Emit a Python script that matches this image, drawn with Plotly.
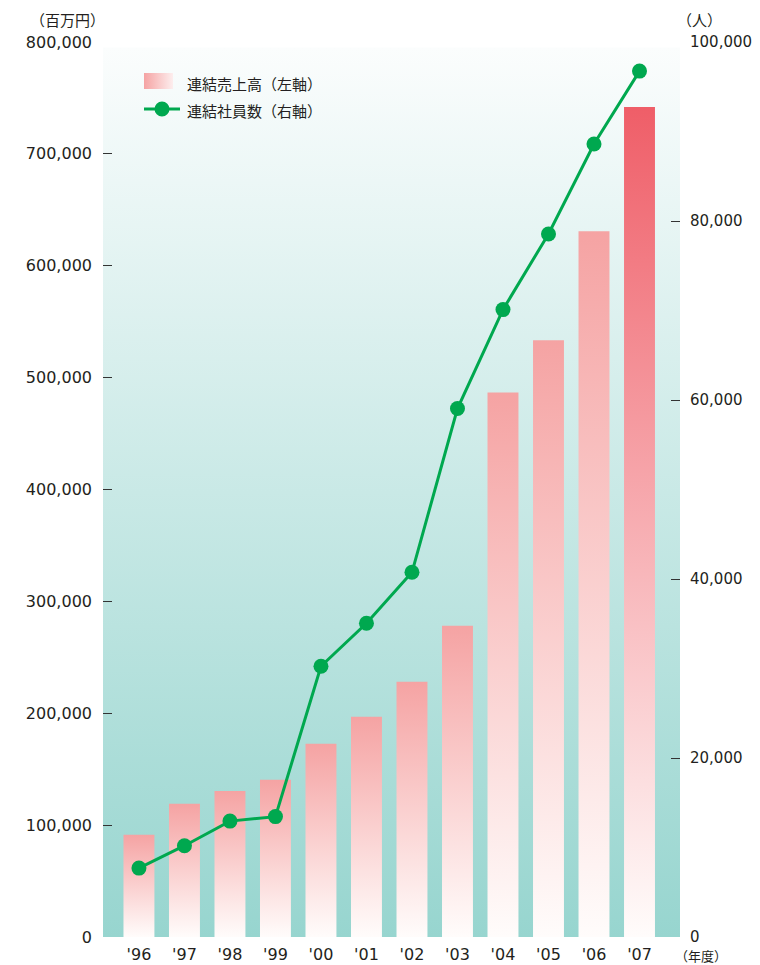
import plotly.graph_objects as go

# データ
years = ["'96", "'97", "'98", "'99", "'00", "'01", "'02", "'03", "'04", "'05", "'06", "'07"]
sales = [91500, 119000, 130600, 140500, 172700, 196900, 228200, 278300, 486800, 533300, 630900, 741800]
employees = [7700, 10200, 12950, 13450, 30250, 35050, 40750, 59050, 70100, 78550, 88600, 96750]
left_ticks = [0, 100000, 200000, 300000, 400000, 500000, 600000, 700000, 800000]
right_ticks = [0, 20000, 40000, 60000, 80000, 100000]

FONT = "DejaVu Sans, Noto Sans CJK JP"
JP = "Noto Sans CJK JP"
GREEN = "#00a84f"
PINK = "#f5a3a3"
RED = "#ef5e68"
TXT = "#231f20"
half = 0.34
xr = [-0.79, 11.89]
bg_top = 795000

# ページ上のピクセル位置 -> paper座標 (プロット領域 x:103-680, y:42-937)
def px2paper(px, py):
    return (px - 103) / 577, (937 - py) / 895

fig = go.Figure()

# 背景のグラデーション
fig.add_trace(go.Scatter(
    x=[xr[0], xr[0], xr[1], xr[1], xr[0]], y=[0, bg_top, bg_top, 0, 0],
    mode="none", fill="toself", showlegend=False, hoverinfo="skip",
    fillgradient=dict(type="vertical", colorscale=[[0, "#97d5cf"], [1, "#fbfdfd"]]),
))

# 売上高の棒
for i, v in enumerate(sales):
    top = RED if i == len(sales) - 1 else PINK
    fig.add_trace(go.Scatter(
        x=[i - half, i - half, i + half, i + half, i - half], y=[0, v, v, 0, 0],
        mode="none", fill="toself", showlegend=False, hoverinfo="skip",
        fillgradient=dict(type="vertical", colorscale=[[0, "#fffcfb"], [1, top]]),
    ))

# 社員数
fig.add_trace(go.Scatter(
    x=list(range(len(years))), y=employees, yaxis="y2", showlegend=False,
    mode="lines+markers", line=dict(color=GREEN, width=3),
    marker=dict(color=GREEN, size=15),
))

# 凡例の見本（グラデーション）
fig.add_trace(go.Scatter(
    x=[0, 0, 1, 1, 0], y=[0, 1, 1, 0, 0], xaxis="x3", yaxis="y3",
    mode="none", fill="toself", showlegend=False, hoverinfo="skip",
    fillgradient=dict(type="horizontal", colorscale=[[0, PINK], [1, "#fdeeee"]]),
))

sx0, sy0 = px2paper(144, 89)
sx1, sy1 = px2paper(173, 73)
lx0, ly = px2paper(144, 109)
lx1, _ = px2paper(180, 109)
mx, _ = px2paper(162, 109)

fig.update_layout(
    width=752, height=957,
    margin=dict(l=95, r=80, t=34, b=28),
    paper_bgcolor="white", plot_bgcolor="white",
    font=dict(family=FONT, size=16, color=TXT),
    showlegend=False,
    xaxis=dict(range=xr, tickvals=list(range(len(years))), ticktext=years,
               showgrid=False, zeroline=False, showline=False, ticks="",
               ticklabelstandoff=6, automargin=False),
    yaxis=dict(range=[0, 800000], tickvals=left_ticks,
               ticktext=[f"{t:,}" for t in left_ticks],
               showgrid=False, zeroline=False, showline=False,
               ticks="inside", ticklen=9, tickcolor="#333333", tickwidth=1,
               ticklabelstandoff=10, automargin=False),
    yaxis2=dict(range=[0, 100000], overlaying="y", side="right",
                tickvals=right_ticks, ticktext=[f"{t:,}" for t in right_ticks],
                tickfont=dict(size=15),
                showgrid=False, zeroline=False, showline=False,
                ticks="inside", ticklen=9, tickcolor="#333333", tickwidth=1,
                ticklabelstandoff=9, automargin=False),
    xaxis3=dict(domain=[sx0, sx1], range=[0, 1], visible=False, fixedrange=True),
    yaxis3=dict(domain=[sy0, sy1], range=[0, 1], visible=False, fixedrange=True,
                anchor="x3"),
    shapes=[
        dict(type="line", xref="paper", yref="paper", x0=lx0, x1=lx1, y0=ly, y1=ly,
             line=dict(color=GREEN, width=3)),
        dict(type="circle", xref="paper", yref="paper", xsizemode="pixel",
             ysizemode="pixel", xanchor=mx, yanchor=ly, x0=-7.5, x1=7.5, y0=-7.5, y1=7.5,
             fillcolor=GREEN, line=dict(width=0)),
    ],
)

# 注記
anns = []
for text, px, py, size, anchor in [
    ("（百万円）", 67, 19, 15, "center"),
    ("（人）", 699, 19, 15, "center"),
    ("（年度）", 701, 955, 13, "center"),
    ("連結売上高（左軸）", 186, 84, 15, "left"),
    ("連結社員数（右軸）", 186, 111, 15, "left"),
]:
    ax, ay = px2paper(px, py)
    anns.append(dict(text=text, x=ax, y=ay, xref="paper", yref="paper",
                     xanchor=anchor, yanchor="middle", showarrow=False,
                     borderpad=0,
                     font=dict(family=JP, size=size, color=TXT)))
fig.update_layout(annotations=anns)

fig.write_html("out.html")
